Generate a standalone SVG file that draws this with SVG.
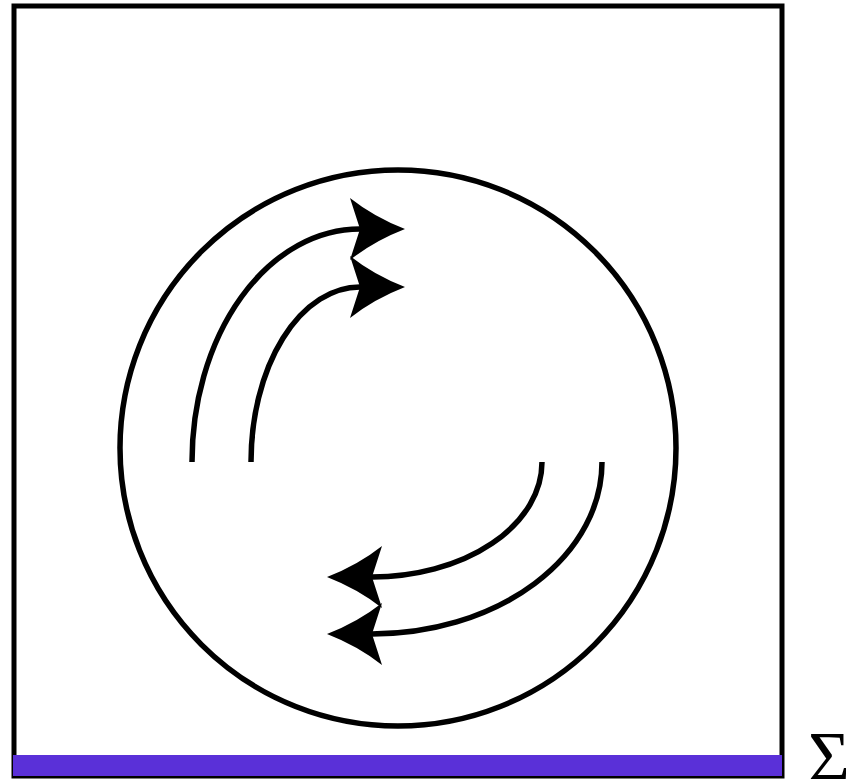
<svg xmlns="http://www.w3.org/2000/svg" width="846" height="779" viewBox="0 0 846 779">
  <style>
    .line { fill: none; stroke: #000; stroke-width: 5.5; }
    .frame { fill: #fff; stroke: #000; stroke-width: 5; }
    .sigma { font-family: "Liberation Serif", "DejaVu Serif", serif; font-size: 72px; fill: #000; }
  </style>
  <defs>
    <marker id="head" markerUnits="userSpaceOnUse" orient="auto" refX="0" refY="0" markerWidth="80" markerHeight="80" overflow="visible">
      <path d="M45,0 Q14,-12 -10,-31 L0,0 L-10,31 Q14,12 45,0 Z" fill="#000"/>
    </marker>
  </defs>
  <g id="frame">
    <rect class="frame" x="14" y="6" width="768" height="770"/>
    <rect x="13" y="755" width="769" height="21" fill="#5a30d8"/>
  </g>
  <g id="circle">
    <circle class="line" cx="398" cy="448" r="278"/>
  </g>
  <g id="connectors">
    <path class="line" d="M192,462 A168,233 0 0 1 360,229" marker-end="url(#head)"/>
    <path class="line" d="M251,462 A109,175 0 0 1 360,287" marker-end="url(#head)"/>
    <path class="line" d="M542,462 A170,115 0 0 1 372,577" marker-end="url(#head)"/>
    <path class="line" d="M602,462 A230,172 0 0 1 372,634" marker-end="url(#head)"/>
  </g>
  <g id="label">
    <text class="sigma" x="808" y="781">Σ</text>
  </g>
</svg>
